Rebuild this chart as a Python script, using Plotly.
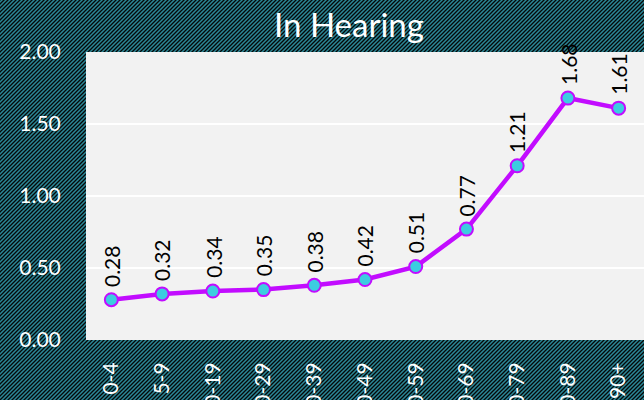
import plotly.graph_objects as go
import urllib.parse

categories = ["0-4", "5-9", "10-19", "20-29", "30-39", "40-49", "50-59", "60-69", "70-79", "80-89", "90+"]
values = [0.28, 0.32, 0.34, 0.35, 0.38, 0.42, 0.51, 0.77, 1.21, 1.68, 1.61]
y_ticks = [0, 0.5, 1.0, 1.5, 2.0]
y_labels = ["0.00", "0.50", "1.00", "1.50", "2.00"]
title_text = "In Hearing"

W, H = 644, 400
ML, MR, MT, MB = 86, 0, 52, 60
PW, PH = W - ML - MR, H - MT - MB

FONT = "Lato, Open Sans, sans-serif"

svg = (
    "<svg xmlns='http://www.w3.org/2000/svg' width='644' height='400'>"
    "<defs><pattern id='p' width='4' height='4' patternUnits='userSpaceOnUse'>"
    "<rect width='4' height='4' fill='#2b8898'/>"
    "<path d='M-1,1 l2,-2 M0,4 l4,-4 M3,5 l2,-2' stroke='#050808' stroke-width='1.35'/>"
    "</pattern></defs><rect width='644' height='400' fill='url(#p)'/></svg>"
)
src = "data:image/svg+xml;charset=utf-8," + urllib.parse.quote(svg)

fig = go.Figure()
fig.add_trace(go.Scatter(
    x=categories, y=values, mode="lines+markers",
    line=dict(color="#c20cff", width=4.5),
    marker=dict(size=13, color="#3ccde0", line=dict(color="#c20cff", width=2)),
    hoverinfo="skip", showlegend=False, cliponaxis=False,
))

for c, v in zip(categories, values):
    fig.add_annotation(
        x=c, y=v, text=f"{v:.2f}", textangle=-90, showarrow=False,
        xanchor="center", yanchor="bottom", yshift=11,
        font=dict(family=FONT, size=21, color="#000000"),
    )

fig.add_layout_image(
    source=src, xref="paper", yref="paper",
    x=-ML / PW, y=(PH + MT) / PH, sizex=W / PW, sizey=H / PH,
    xanchor="left", yanchor="top", sizing="stretch", layer="below",
)
fig.add_shape(type="rect", xref="paper", yref="paper", x0=0, x1=1, y0=0, y1=1,
              fillcolor="#f2f2f2", line=dict(width=0), layer="below")

fig.update_layout(
    width=W, height=H,
    margin=dict(l=ML, r=MR, t=MT, b=MB, autoexpand=False),
    paper_bgcolor="#2b8898", plot_bgcolor="rgba(0,0,0,0)",
    title=dict(text=title_text, x=349 / W, xanchor="center", y=1 - 25 / H, yanchor="middle",
               font=dict(family=FONT, size=33, color="#ffffff")),
    xaxis=dict(
        type="category", range=[-0.5, len(categories) - 0.5],
        tickangle=-90, tickfont=dict(family=FONT, size=21, color="#ffffff"),
        showgrid=False, zeroline=False, showline=False,
        ticks="outside", ticklen=13, tickcolor="rgba(0,0,0,0)", automargin=False,
    ),
    yaxis=dict(
        range=[0, 2], tickvals=y_ticks, ticktext=y_labels,
        tickfont=dict(family=FONT, size=21, color="#ffffff"),
        showgrid=True, gridcolor="#ffffff", gridwidth=1.5,
        zeroline=False, showline=False,
        ticks="outside", ticklen=20, tickcolor="rgba(0,0,0,0)", automargin=False,
    ),
)

fig.write_html(
    "out.html",
    config={"displayModeBar": False, "staticPlot": True},
    post_script="document.body.style.margin='0';document.body.style.overflow='hidden';",
)
